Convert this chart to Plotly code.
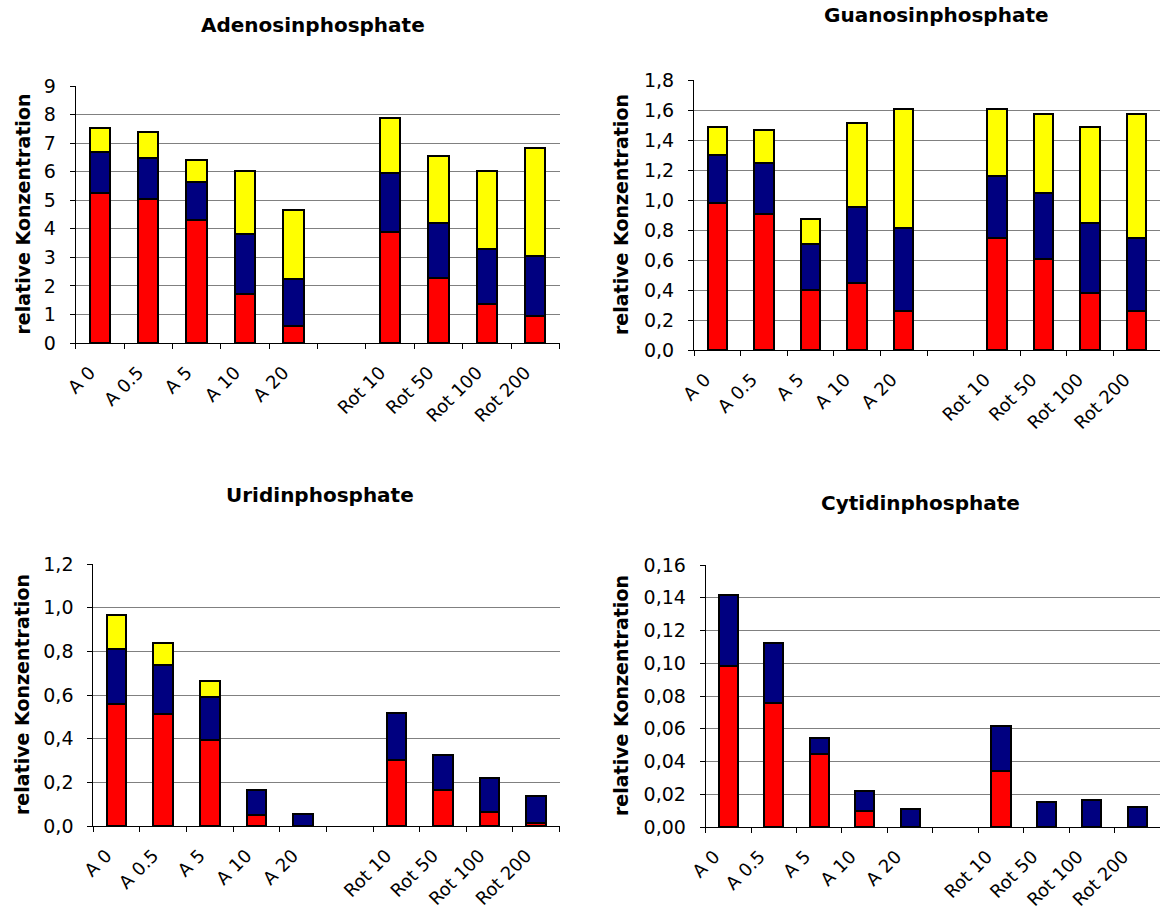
import plotly.graph_objects as go

categories = ["A 0", "A 0.5", "A 5", "A 10", "A 20", " ", "Rot 10", "Rot 50", "Rot 100", "Rot 200"]

# Adenosinphosphate
ade_red = [5.27, 5.06, 4.30, 1.71, 0.61, None, 3.88, 2.28, 1.37, 0.95]
ade_blue = [1.42, 1.42, 1.35, 2.12, 1.63, None, 2.06, 1.91, 1.91, 2.11]
ade_yellow = [0.84, 0.90, 0.75, 2.21, 2.42, None, 1.94, 2.36, 2.76, 3.77]

# Guanosinphosphate
gua_red = [0.98, 0.91, 0.40, 0.45, 0.26, None, 0.75, 0.61, 0.38, 0.26]
gua_blue = [0.32, 0.34, 0.31, 0.505, 0.555, None, 0.41, 0.44, 0.465, 0.49]
gua_yellow = [0.19, 0.215, 0.162, 0.561, 0.795, None, 0.45, 0.522, 0.645, 0.822]

# Uridinphosphate
uri_red = [0.56, 0.515, 0.395, 0.052, None, None, 0.302, 0.165, 0.062, 0.015]
uri_blue = [0.25, 0.222, 0.196, 0.114, 0.055, None, 0.215, 0.158, 0.16, 0.122]
uri_yellow = [0.158, 0.103, 0.075, None, None, None, None, None, None, None]

# Cytidinphosphate
cyt_red = [0.0982, 0.0760, 0.0443, 0.0098, None, None, 0.0344, None, None, None]
cyt_blue = [0.0432, 0.0361, 0.0100, 0.0123, 0.0113, None, 0.0271, 0.0150, 0.0162, 0.0125]

titles = ["Adenosinphosphate", "Guanosinphosphate", "Uridinphosphate", "Cytidinphosphate"]
y_title = "relative Konzentration"
series_names = ["Reihe1", "Reihe2", "Reihe3"]
colors = ["#FF0000", "#000080", "#FFFF00"]

W, H = 1166, 912
FONT = "DejaVu Sans"

charts = [
    dict(series=[ade_red, ade_blue, ade_yellow], yr=[0, 9], dtick=1, fmt=".0f",
         px=(75.7, 559.5), py=(86, 343), title_xy=(313, 25), ylab_x=22, shift=-10),
    dict(series=[gua_red, gua_blue, gua_yellow], yr=[0, 1.8], dtick=0.2, fmt=".1f",
         px=(694, 1160), py=(80, 350), title_xy=(936, 15), ylab_x=621, shift=-12),
    dict(series=[uri_red, uri_blue, uri_yellow], yr=[0, 1.2], dtick=0.2, fmt=".1f",
         px=(93.3, 559.5), py=(564, 826), title_xy=(320, 495), ylab_x=22, shift=-10),
    dict(series=[cyt_red, cyt_blue], yr=[0, 0.16], dtick=0.02, fmt=".2f",
         px=(705.7, 1160), py=(565, 827), title_xy=(920, 503), ylab_x=621, shift=-14),
]

fig = go.Figure()
annotations = []
layout = {}
for i, c in enumerate(charts):
    n = i + 1
    xa = "x" if n == 1 else f"x{n}"
    ya = "y" if n == 1 else f"y{n}"
    for s, vals in enumerate(c["series"]):
        fig.add_trace(go.Bar(
            x=categories, y=vals, name=series_names[s],
            marker=dict(color=colors[s], line=dict(color="black", width=2)),
            xaxis=xa, yaxis=ya, showlegend=False, hoverinfo="x+y",
        ))
    x0, x1 = c["px"]
    y0, y1 = c["py"]
    layout["xaxis" if n == 1 else f"xaxis{n}"] = dict(
        domain=[x0 / W, x1 / W], anchor=ya, type="category", automargin=False,
        categoryorder="array", categoryarray=categories, range=[-0.5, 9.5],
        tickson="boundaries", ticks="outside", ticklen=5, tickcolor="black",
        showline=True, linecolor="black", linewidth=1, showgrid=False,
        tickangle=-45, tickfont=dict(family=FONT, size=18, color="black"),
        ticklabelstandoff=11, ticklabelshift=c["shift"],
    )
    layout["yaxis" if n == 1 else f"yaxis{n}"] = dict(
        domain=[1 - y1 / H, 1 - y0 / H], anchor=xa, range=c["yr"], automargin=False,
        dtick=c["dtick"], tick0=0, tickformat=c["fmt"],
        ticks="outside", ticklen=5, tickcolor="black",
        showline=True, linecolor="black", linewidth=1,
        showgrid=True, gridcolor="#808080", gridwidth=1, zeroline=False,
        tickfont=dict(family=FONT, size=19, color="black"), ticklabelstandoff=10,
    )
    tx, ty = c["title_xy"]
    annotations.append(dict(
        text=f"<b>{titles[i]}</b>", x=tx / W, y=1 - ty / H, xref="paper", yref="paper",
        xanchor="center", yanchor="middle", showarrow=False,
        font=dict(family=FONT, size=20, color="black"),
    ))
    annotations.append(dict(
        text=f"<b>{y_title}</b>", x=c["ylab_x"] / W, y=1 - (y0 + y1) / 2 / H,
        xref="paper", yref="paper", xanchor="center", yanchor="middle",
        textangle=-90, showarrow=False,
        font=dict(family=FONT, size=19, color="black"),
    ))

fig.update_layout(
    width=W, height=H, margin=dict(l=0, r=0, t=0, b=0, autoexpand=False),
    paper_bgcolor="white", plot_bgcolor="white",
    barmode="stack", bargap=0.58, separators=",.",
    annotations=annotations, showlegend=False,
    **layout,
)

fig.write_html("out.html")
